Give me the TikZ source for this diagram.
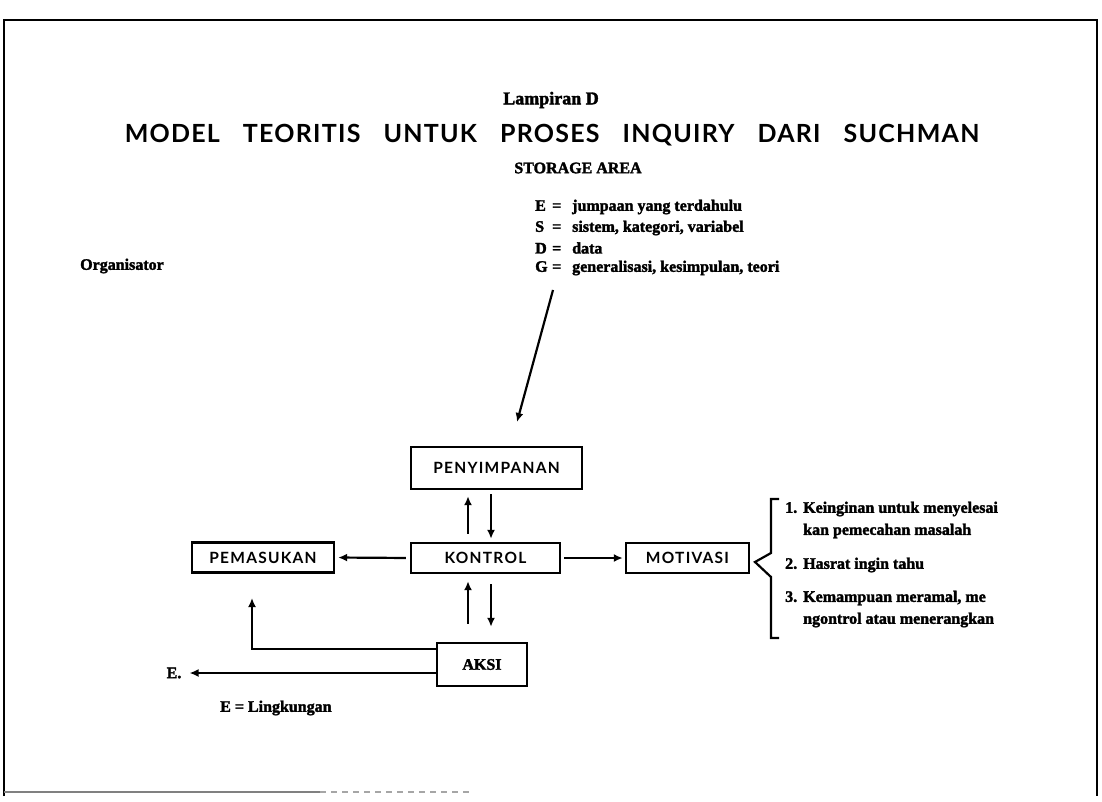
\documentclass[tikz,border=0pt]{standalone}
\usepackage{fontspec}
\setmainfont{Liberation Serif}[BoldFeatures={FakeBold=2}]
\newfontfamily\flarefont[LetterSpace=8]{Lato}
\newfontfamily\headfont[LetterSpace=5]{Lato}
\usetikzlibrary{arrows.meta}
\begin{document}
\begin{tikzpicture}[x=1pt,y=-1pt,
  txt/.style={font=\fontsize{16}{18}\selectfont\bfseries, inner sep=0pt, anchor=west},
  stepbox/.style={draw, line width=2.4pt, inner sep=0pt,
    font=\flarefont\fontsize{15.5}{17}\selectfont\bfseries},
  arr/.style={line width=2.2pt, -{Latex[length=9pt,width=8pt]}},
  thin/.style={line width=2.2pt}
  ]
\useasboundingbox (0,0) rectangle (1102,802);

% page frame
\draw[line width=2.6pt] (4,796) -- (4,20) -- (1097,20) -- (1097,796);
\draw[gray, line width=1.6pt] (4,792) -- (320,792);
\draw[gray!70, line width=1.2pt, dash pattern=on 6pt off 5pt] (320,792) -- (470,792);

% headings
\node[font=\fontsize{18}{20}\selectfont\bfseries, inner sep=0pt] (lamp) at (551,100) {Lampiran D};
\node[font=\headfont\fontsize{25}{27}\selectfont\bfseries, inner sep=0pt] (title) at (552,135)
  {MODEL\hspace{23pt}TEORITIS\hspace{23pt}UNTUK\hspace{23pt}PROSES\hspace{23pt}INQUIRY\hspace{23pt}DARI\hspace{23pt}SUCHMAN};
\node[txt, anchor=center] (storage) at (578,168) {STORAGE AREA};

% storage legend
\node[txt] (legE) at (535,207) {\makebox[17pt][l]{E}\makebox[20pt][l]{=}jumpaan yang terdahulu};
\node[txt] (legS) at (535,228) {\makebox[17pt][l]{S}\makebox[20pt][l]{=}sistem, kategori, variabel};
\node[txt] (legD) at (535,248) {\makebox[17pt][l]{D}\makebox[20pt][l]{=}data};
\node[txt] (legG) at (535,268) {\makebox[17pt][l]{G}\makebox[20pt][l]{=}generalisasi, kesimpulan, teori};
\node[txt] (org) at (80,266) {Organisator};

% boxes
\node[stepbox, minimum width=171pt, minimum height=42pt] (peny) at (496.5,468) {PENYIMPANAN};
\node[stepbox, minimum width=149pt, minimum height=30pt] (kon)  at (485.5,558) {KONTROL};
\node[stepbox, minimum width=142pt, minimum height=30pt] (pem)  at (263,557.5) {PEMASUKAN};
\node[stepbox, minimum width=123pt, minimum height=30pt] (mot)  at (687.5,558) {MOTIVASI};
\node[draw, line width=2.4pt, minimum width=90pt, minimum height=43pt, inner sep=0pt,
      font=\fontsize{16}{18}\selectfont\bfseries] (aksi) at (482,664.5) {AKSI};

% storage area feeding the store
\coordinate (gFoot) at (553,290);
\coordinate (gTip) at (517,422);
\draw[arr] (gFoot) -- (gTip);

% store <-> control
\coordinate (colUp) at (468,0);
\coordinate (colDn) at (491,0);
\draw[arr, shorten <=8pt, shorten >=6pt] (kon.north -| colUp) -- (peny.south -| colUp);
\draw[arr, shorten <=4pt, shorten >=3pt] (peny.south -| colDn) -- (kon.north -| colDn);
% control <-> action
\draw[arr, shorten <=18pt, shorten >=7pt] (aksi.north -| colUp) -- (kon.south -| colUp);
\draw[arr, shorten <=10pt, shorten >=15pt] (kon.south -| colDn) -- (aksi.north -| colDn);

% control to input and motivation
\draw[arr, shorten <=4pt, shorten >=3pt] (kon.west) -- (pem.east);
\draw[arr, shorten <=3pt, shorten >=2pt] (kon.east) -- (mot.west);

% action outputs
\coordinate (pemIn) at (252,598);
\draw[arr] ([yshift=15.5pt]aksi.west) -| (pemIn);
\node[txt, anchor=center] (env) at (174,673) {E.};
\draw[arr, shorten >=8pt] ([yshift=-8.5pt]aksi.west) -- (env.east);
\node[txt] (envKey) at (220,708) {E = Lingkungan};

% motivation brace
\draw[thin] (779,499) -- (771,499) -- (771,553) -- (755,562) -- (771,577) -- (771,638) -- (779,638);

% motivation items
\node[txt] (m1a) at (785,509) {\makebox[18pt][l]{1.}Keinginan untuk menyelesai};
\node[txt] (m1b) at (803,531) {kan pemecahan masalah};
\node[txt] (m2)  at (785,565) {\makebox[18pt][l]{2.}Hasrat ingin tahu};
\node[txt] (m3a) at (785,598) {\makebox[18pt][l]{3.}Kemampuan meramal, me};
\node[txt] (m3b) at (803,620) {ngontrol atau menerangkan};
\end{tikzpicture}
\end{document}
